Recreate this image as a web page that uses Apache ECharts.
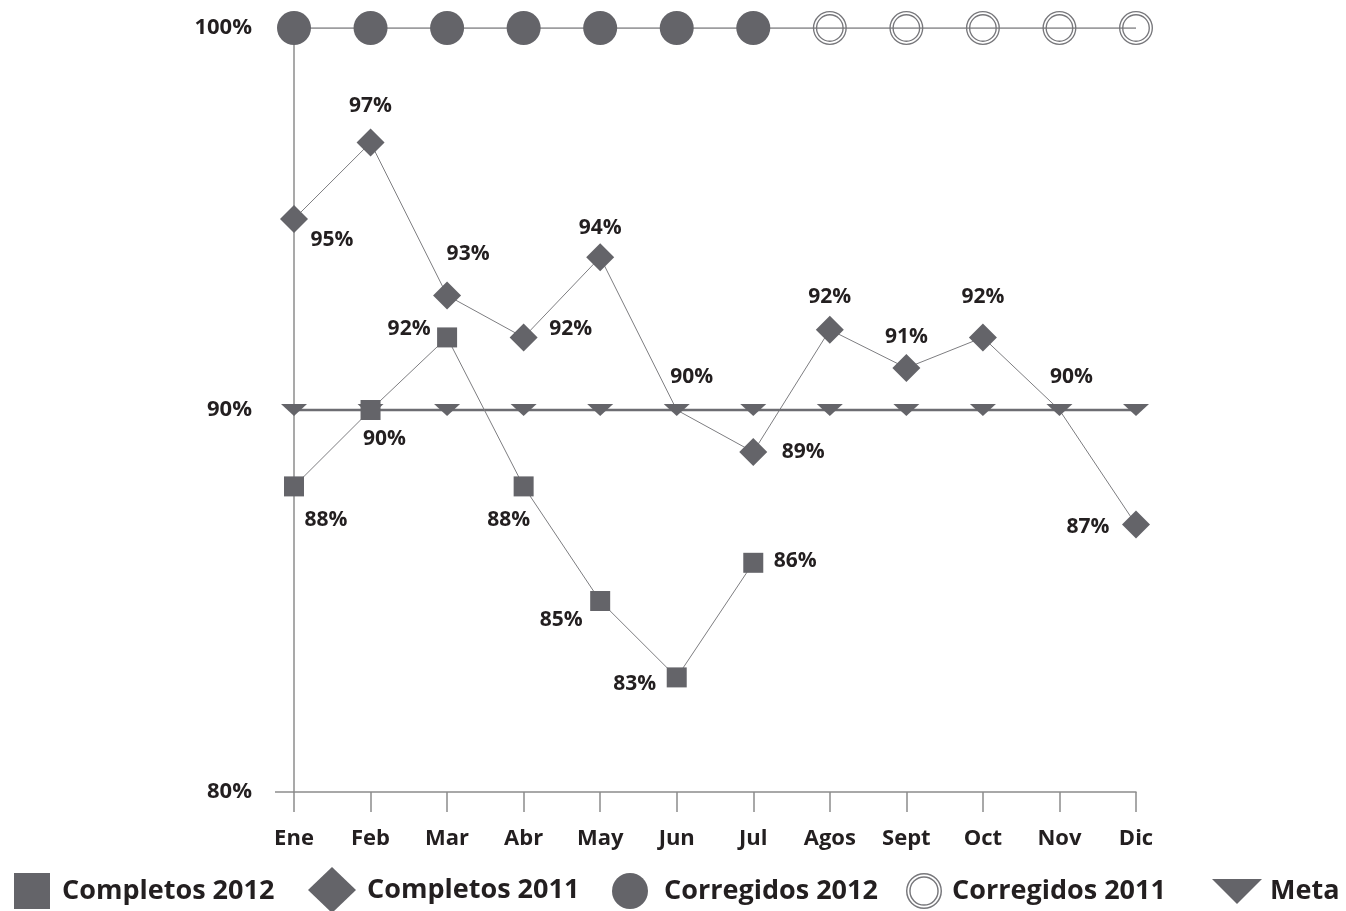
<!DOCTYPE html>
<html><head><meta charset="utf-8">
<script src="https://cdn.jsdelivr.net/npm/echarts@6/dist/echarts.min.js"></script>
<style>html,body{margin:0;padding:0;background:#fff}#c{width:1346px;height:911px}</style>
</head><body><div id="c"></div>
<script>
const categories = ['Ene','Feb','Mar','Abr','May','Jun','Jul','Agos','Sept','Oct','Nov','Dic'];
const completos2012 = [88, 90, 91.9, 88, 85, 83, 86, null, null, null, null, null];
const completos2011 = [95, 97, 93, 91.9, 94, 90, 88.9, 92.1, 91.1, 91.9, 90, 87];
const corregidos2012 = [100, 100, 100, 100, 100, 100, 100, null, null, null, null, null];
const corregidos2011 = [null, null, null, null, null, null, null, 100, 100, 100, 100, 100];
const meta = [90, 90, 90, 90, 90, 90, 90, 90, 90, 90, 90, 90];
const yTicks = [80, 90, 100];

// label offsets (style)
const off2011 = [[38,21],[0,-37],[21,-41],[47,-8],[0,-29],[15,-33],[50,0],[0,-33],[0,-31],[0,-40],[12,-33],[-48,2]];
const off2012 = [[32,34],[14,29],[-38,-8],[-15,34],[-39,19],[-42,7],[42,-2]];

const GRAY = '#646469';
const LINE = '#7d7d80';
const TXT = '#231f20';
const FONT = 'Open Sans';

function ring(){ // double ring path
  function circ(r, sweep){ return `M${50-r},50A${r},${r} 0 1 ${sweep} ${50+r},50A${r},${r} 0 1 ${sweep} ${50-r},50Z`; }
  return 'path://' + circ(50,1) + circ(46,0) + circ(41,1) + circ(37,0);
}
const RING = ring();
const TRI = 'path://M0,0L20,0L10,10Z';

const lbl = (off) => ({show:true, position:'inside', offset:off, color:TXT, fontFamily:FONT, fontWeight:'bold', fontSize:21,
  formatter: p => Math.round(p.value) + '%'});

const d2011 = completos2011.map((v,i)=>{
  const o = {value:v, label:lbl(off2011[i])};
  if (v === meta[i]) o.itemStyle = {color:'rgba(0,0,0,0)'};
  return o;
});
const d2012 = completos2012.map((v,i)=> v==null ? null : ({value:v, label:lbl(off2012[i])}));
const dCorr11 = corregidos2011.map((v,i)=>{
  if (v != null) return v;
  if (i === 6) return {value: corregidos2012[i], symbol:'none'};
  return null;
});

const chart = echarts.init(document.getElementById('c'));
const ts = (pad) => ({fontFamily:FONT, fontWeight:'bold', fontSize:27, color:TXT, padding:[10,0,0,pad]});
const lg = (left, top, w, h, name, icon, pad) => ({left, top, itemWidth:w, itemHeight:h, itemGap:0, selectedMode:false,
  padding:0, data:[{name, icon}], textStyle:ts(pad)});
chart.setOption({
  animation:false,
  grid:{left:294, right:210, top:28, bottom:119},
  xAxis:{type:'category', data:categories, boundaryGap:false,
    axisLine:{lineStyle:{color:'#8c8c8c', width:1.5}},
    axisTick:{show:true, alignWithLabel:true, length:20, lineStyle:{color:'#8c8c8c', width:1.5}},
    axisLabel:{margin:36, color:TXT, fontFamily:FONT, fontWeight:'bold', fontSize:22, interval:0}},
  yAxis:{type:'value', min:yTicks[0], max:yTicks[yTicks.length-1], interval:10,
    axisLine:{show:true, lineStyle:{color:'#8c8c8c', width:1.5}},
    axisTick:{show:false}, splitLine:{show:false},
    axisLabel:{margin:42, color:TXT, fontFamily:FONT, fontWeight:'bold', fontSize:22, formatter:'{value}%'}},
  graphic:[{type:'line', shape:{x1:275, y1:792, x2:294, y2:792}, style:{stroke:'#8c8c8c', lineWidth:1.5}}],
  legend:[
    lg(14, 873, 36, 36, 'Completos 2012', 'rect', 7),
    lg(308, 867, 48, 46, 'Completos 2011', 'diamond', 6),
    lg(612, 873, 36, 36, 'Corregidos 2012', 'circle', 11),
    lg(906, 873, 36, 36, 'Corregidos 2011', RING, 5),
    lg(1212, 878, 50, 36, 'Meta', TRI, 3)
  ],
  series:[
    {name:'Completos 2011', type:'line', data:d2011, symbol:'diamond', symbolSize:28,
      itemStyle:{color:GRAY}, lineStyle:{color:LINE, width:1}, z:2},
    {name:'Meta', type:'line', data:meta, symbol:TRI, symbolSize:[26,12],
      itemStyle:{color:GRAY}, lineStyle:{color:'#6d6d72', width:2.5}, z:3},
    {name:'Completos 2012', type:'line', data:d2012, symbol:'rect', symbolSize:20,
      itemStyle:{color:GRAY}, lineStyle:{color:LINE, width:1}, z:4},
    {name:'Corregidos 2011', type:'line', data:dCorr11, symbol:RING, symbolSize:34,
      itemStyle:{color:'#77777b'}, lineStyle:{color:LINE, width:1.5}, z:5},
    {name:'Corregidos 2012', type:'line', data:corregidos2012, symbol:'circle', symbolSize:34,
      itemStyle:{color:GRAY}, lineStyle:{color:LINE, width:1.5}, z:6}
  ]
});
</script></body></html>
